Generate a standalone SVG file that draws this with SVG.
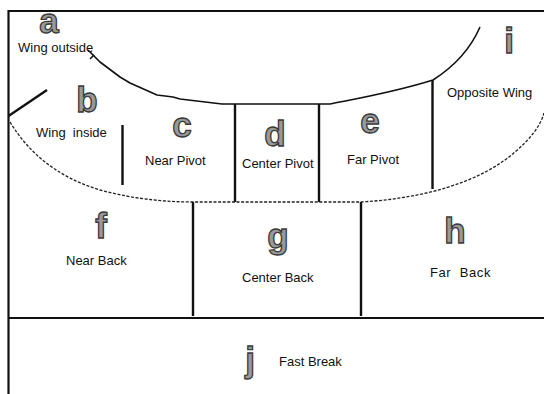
<svg xmlns="http://www.w3.org/2000/svg" width="544" height="394" viewBox="0 0 544 394">
  <style>
    .frame { fill: none; stroke: #111; stroke-width: 2.2; stroke-linecap: butt; }
    .wall { fill: none; stroke: #111; stroke-width: 2.4; }
    .arc { fill: none; stroke: #111; stroke-width: 1.6; stroke-linejoin: round; }
    .dots { fill: none; stroke: #222; stroke-width: 1.3; stroke-dasharray: 3 1.6; }
    .zone { font-family: "Liberation Sans", Arial, sans-serif; font-size: 35px; font-weight: bold; fill: #999; stroke: #3a3a3a; stroke-width: 1.3; text-anchor: middle; }
    .label { font-family: "Liberation Sans", Arial, sans-serif; font-size: 13px; fill: #111; white-space: pre; }
  </style>

  <rect width="544" height="394" fill="#fff"/>

  <!-- Court outline and zone boundaries -->
  <g id="connectors">
    <!-- outer frame: top and left edges -->
    <path class="frame" d="M8.5 11 H544 M8.5 10 V394"/>
    <!-- fast-break line -->
    <path class="frame" d="M8.5 318 H544"/>
    <!-- solid arc closing the wing/pivot area -->
    <path class="arc" d="M88 50 L100 62 L120 77 L130 83 L157 95 L173 97 L180 99 L222 104 L330 104 C360 98 395 92 433 80 C455 66 470 50 480 27"/>
    <path class="arc" d="M90 59 L94 55"/>
    <!-- diagonal wing marker -->
    <path class="wall" d="M8.5 116 L47 90"/>
    <!-- dotted perimeter -->
    <path class="dots" d="M10 122 C30 155 60 178 100 190 C130 198 160 202 195 202 L360 202 C420 199 480 183 515 152 C530 139 540 127 544 113"/>
    <!-- pivot dividers -->
    <path class="wall" d="M122.5 125 V185 M235 104 V202 M319 104 V202 M432.5 80 V189"/>
    <!-- back-court dividers -->
    <path class="wall" d="M193 202 V316 M361 202 V316"/>
  </g>

  <g id="zone-a">
    <text class="zone" x="49" y="33">a</text>
    <text class="label" x="18" y="52">Wing outside</text>
  </g>
  <g id="zone-b">
    <text class="zone" x="87" y="112">b</text>
    <text class="label" x="36" y="137">Wing  inside</text>
  </g>
  <g id="zone-c">
    <text class="zone" x="182" y="137">c</text>
    <text class="label" x="145" y="165">Near Pivot</text>
  </g>
  <g id="zone-d">
    <text class="zone" x="275" y="146">d</text>
    <text class="label" x="242" y="168">Center Pivot</text>
  </g>
  <g id="zone-e">
    <text class="zone" x="370" y="133">e</text>
    <text class="label" x="347" y="164">Far Pivot</text>
  </g>
  <g id="zone-i">
    <text class="zone" x="509" y="53">i</text>
    <text class="label" x="447" y="97">Opposite Wing</text>
  </g>
  <g id="zone-f">
    <text class="zone" x="101" y="238">f</text>
    <text class="label" x="66" y="265">Near Back</text>
  </g>
  <g id="zone-g">
    <text class="zone" x="278" y="248">g</text>
    <text class="label" x="242" y="282">Center Back</text>
  </g>
  <g id="zone-h">
    <text class="zone" x="455" y="243">h</text>
    <text class="label" x="430" y="277" letter-spacing="0.6">Far  Back</text>
  </g>
  <g id="zone-j">
    <text class="zone" x="250" y="372">j</text>
    <text class="label" x="279" y="366">Fast Break</text>
  </g>
</svg>
